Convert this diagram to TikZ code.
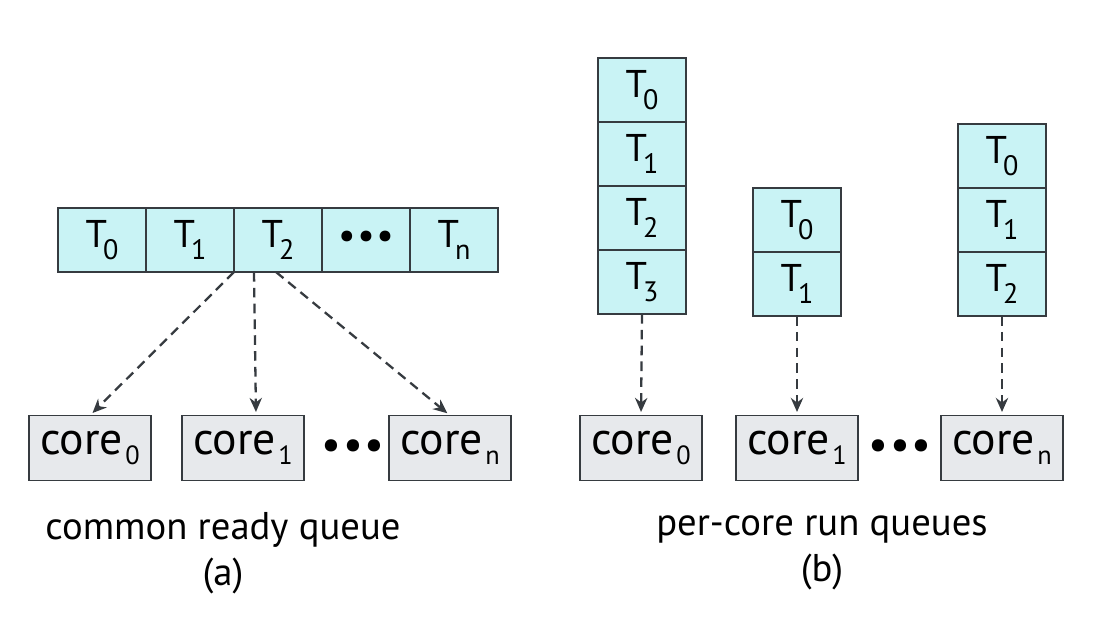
\documentclass[tikz,border=0pt]{standalone}
\usepackage{fontspec}
\setmainfont{PT Sans}
\usetikzlibrary{arrows.meta,positioning}
\definecolor{TaskCyan}{HTML}{C9F3F5}
\definecolor{CoreGray}{HTML}{E7E9EC}
\definecolor{Edge}{HTML}{363B40}
\newcommand{\tsk}[1]{T\kern-0.1em\raisebox{-7pt}{\fontsize{16}{16}\selectfont #1}}
\newcommand{\cre}[1]{core\kern0.05em\raisebox{-5.5pt}{\fontsize{15}{15}\selectfont #1}}
\newcommand{\bul}{\textbullet\kern1pt\textbullet\kern1pt\textbullet}

\begin{document}
\begin{tikzpicture}[x=0.2mm,y=-0.2mm,
  task/.style={draw=Edge,line width=1.1pt,fill=TaskCyan,minimum width=17.6mm,minimum height=12.8mm,
    inner sep=0pt,outer sep=0pt,font=\fontsize{22}{24}\selectfont},
  core/.style={draw=Edge,line width=1.1pt,fill=CoreGray,minimum width=24.4mm,minimum height=13mm,
    inner sep=0pt,outer sep=0pt,font=\fontsize{26}{28}\selectfont},
  flow/.style={Edge,line width=1.3pt,dash pattern=on 5.5pt off 3.5pt,-{Stealth[length=8pt,width=7pt]},shorten >=2pt},
  dots/.style={font=\fontsize{25}{25}\selectfont},
  lbl/.style={align=center,font=\fontsize{22}{26}\selectfont}]
  \useasboundingbox (0,0) rectangle (1094,642);
  % (a) common ready queue
  \node[task] (q0) at (102,240) {\tsk0};
  \node[task,right=0pt of q0] (q1) {\tsk1};
  \node[task,right=0pt of q1] (q2) {\tsk2};
  \node[task,right=0pt of q2] (q3) {\bul};
  \node[task,right=0pt of q3] (q4) {\tsk{n}};
  \node[core] (ca0) at (90,448) {\cre0};
  \node[core] (ca1) at (243,448) {\cre1};
  \node[dots] (da) at (353,450) {\bul};
  \node[core] (can) at (450,448) {\cre{n}};
  \draw[flow] (q2.south west) -- (ca0.north);
  \draw[flow] ([xshift=4mm]q2.south west) -- ([xshift=2.6mm]ca1.north);
  \draw[flow] ([xshift=8.4mm]q2.south west) -- (can.north);
  \node[lbl] (capa) at (223,553) {common ready queue\\(a)};
  % (b) per-core run queues
  \node[task] (s00) at (642,90) {\tsk0};
  \node[task,below=0pt of s00] (s01) {\tsk1};
  \node[task,below=0pt of s01] (s02) {\tsk2};
  \node[task,below=0pt of s02] (s03) {\tsk3};
  \node[task] (s10) at (797,220) {\tsk0};
  \node[task,below=0pt of s10] (s11) {\tsk1};
  \node[task] (s20) at (1002,156) {\tsk0};
  \node[task,below=0pt of s20] (s21) {\tsk1};
  \node[task,below=0pt of s21] (s22) {\tsk2};
  \node[core] (cb0) at (641,448) {\cre0};
  \node[core] (cb1) at (797,448) {\cre1};
  \node[dots] (db) at (900,450) {\bul};
  \node[core] (cbn) at (1002,448) {\cre{n}};
  \draw[flow] (s03.south) -- (cb0.north);
  \draw[flow] (s11.south) -- (cb1.north);
  \draw[flow] (s22.south) -- (cbn.north);
  \node[lbl] (capb) at (822,553) {per-core run queues\\(b)};
\end{tikzpicture}
\end{document}
